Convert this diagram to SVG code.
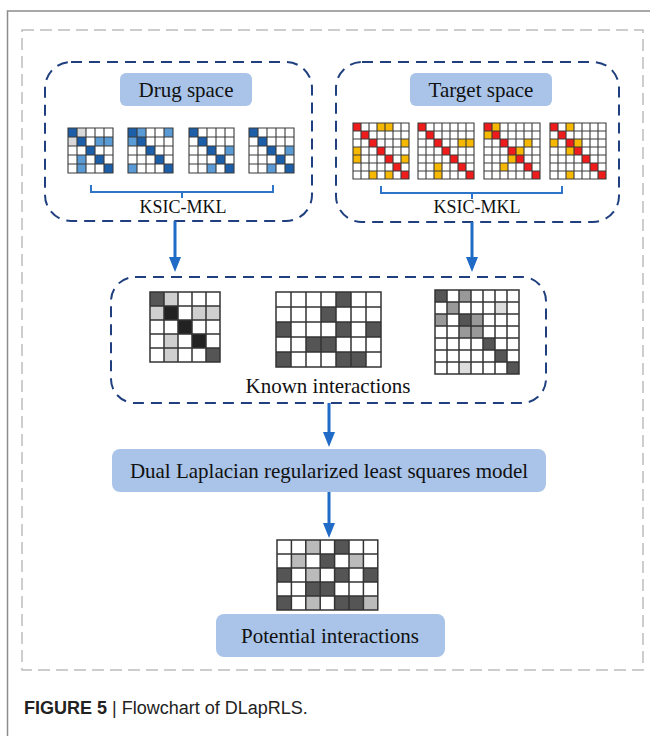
<svg xmlns="http://www.w3.org/2000/svg" xmlns:xlink="http://www.w3.org/1999/xlink" width="650" height="736" viewBox="0 0 650 736">
<style>
.frame{fill:none;stroke:#8c8c8c;stroke-width:1.5}
.outer{fill:none;stroke:#bdbdbd;stroke-width:1.5;stroke-dasharray:12 6}
.grp{fill:none;stroke:#1f3f7f;stroke-width:2;stroke-dasharray:11 7}
.lbl{fill:#a9c4e8}
.t{font-family:"Liberation Serif","Times New Roman",serif;fill:#111;text-anchor:middle}
.cap{font-family:"Liberation Sans",Arial,sans-serif;font-size:18px;fill:#222}
.bg{fill:#fff}
.gs{fill:none;stroke:#3a3a3a;stroke-width:1.1}
.gl{fill:none;stroke:#333;stroke-width:1.5}
.bD{fill:#1c5ea8}.bL{fill:#5b9bd5}.bG{fill:#d9d9d9}
.tR{fill:#ee1c1c}.tY{fill:#f6b800}
.kK{fill:#222}.kM{fill:#555}.kG{fill:#cfcfcf}.kP{fill:#999}.kL{fill:#ddd}.kB{fill:#bbb}
.ar{fill:none;stroke:#1f6bc5;stroke-width:3}
.br{fill:none;stroke:#2e75c9;stroke-width:2}
</style>
<defs>
<marker id="ah" markerUnits="userSpaceOnUse" viewBox="0 0 15 12" markerWidth="15" markerHeight="12" refX="7" refY="6" orient="auto">
<path d="M0,0 L15,6 L0,12 z" fill="#1f6bc5"/>
</marker>
<path id="gD" d="M0,0H45V45H0Z M9,0V45M18,0V45M27,0V45M36,0V45M0,9H45M0,18H45M0,27H45M0,36H45"/>
<path id="gT" d="M0,0H56V56H0Z M8,0V56M16,0V56M24,0V56M32,0V56M40,0V56M48,0V56M0,8H56M0,16H56M0,24H56M0,32H56M0,40H56M0,48H56"/>
<path id="gA" d="M0,0H70V70H0Z M14,0V70M28,0V70M42,0V70M56,0V70M0,14H70M0,28H70M0,42H70M0,56H70"/>
<path id="gB" d="M0,0H105V75H0Z M15,0V75M30,0V75M45,0V75M60,0V75M75,0V75M90,0V75M0,15H105M0,30H105M0,45H105M0,60H105"/>
<path id="gC" d="M0,0H84V84H0Z M12,0V84M24,0V84M36,0V84M48,0V84M60,0V84M72,0V84M0,12H84M0,24H84M0,36H84M0,48H84M0,60H84M0,72H84"/>
<path id="gE" d="M0,0H100.8V70H0Z M14.4,0V70M28.8,0V70M43.2,0V70M57.6,0V70M72,0V70M86.4,0V70M0,14H100.8M0,28H100.8M0,42H100.8M0,56H100.8"/>
<g id="diag7" class="tR">
<rect x="0" y="0" width="8" height="8"/><rect x="8" y="8" width="8" height="8"/><rect x="16" y="16" width="8" height="8"/><rect x="24" y="24" width="8" height="8"/><rect x="32" y="32" width="8" height="8"/><rect x="40" y="40" width="8" height="8"/><rect x="48" y="48" width="8" height="8"/>
</g>
</defs>
<rect width="650" height="736" fill="#fff"/>
<path class="frame" d="M650,11H7.5V736"/>
<rect class="outer" x="22" y="30" width="621" height="640"/>

<g id="drug-space">
<rect class="grp" x="45" y="62" width="267" height="159" rx="26"/>
<rect class="lbl" x="120" y="73" width="132" height="33" rx="6"/>
<text class="t" x="186" y="97" font-size="21">Drug space</text>
<g transform="translate(68,128)">
<rect class="bg" width="45" height="45"/>
<rect class="bD" x="0" y="0" width="9" height="9"/><rect class="bG" x="9" y="0" width="9" height="9"/><rect class="bG" x="0" y="9" width="9" height="9"/><rect class="bD" x="9" y="9" width="9" height="9"/><rect class="bL" x="27" y="9" width="9" height="9"/><rect class="bL" x="36" y="9" width="9" height="9"/><rect class="bD" x="18" y="18" width="9" height="9"/><rect class="bL" x="9" y="27" width="9" height="9"/><rect class="bD" x="27" y="27" width="9" height="9"/><rect class="bL" x="9" y="36" width="9" height="9"/><rect class="bD" x="36" y="36" width="9" height="9"/>
<use xlink:href="#gD" class="gs"/>
</g>
<g transform="translate(128,128)">
<rect class="bg" width="45" height="45"/>
<rect class="bD" x="0" y="0" width="9" height="9"/><rect class="bL" x="9" y="0" width="9" height="9"/><rect class="bL" x="36" y="0" width="9" height="9"/><rect class="bL" x="0" y="9" width="9" height="9"/><rect class="bD" x="9" y="9" width="9" height="9"/><rect class="bD" x="18" y="18" width="9" height="9"/><rect class="bD" x="27" y="27" width="9" height="9"/><rect class="bL" x="0" y="36" width="9" height="9"/><rect class="bD" x="36" y="36" width="9" height="9"/>
<use xlink:href="#gD" class="gs"/>
</g>
<g transform="translate(189,128)">
<rect class="bg" width="45" height="45"/>
<rect class="bD" x="0" y="0" width="9" height="9"/><rect class="bD" x="9" y="9" width="9" height="9"/><rect class="bD" x="18" y="18" width="9" height="9"/><rect class="bL" x="36" y="18" width="9" height="9"/><rect class="bD" x="27" y="27" width="9" height="9"/><rect class="bL" x="18" y="36" width="9" height="9"/><rect class="bD" x="36" y="36" width="9" height="9"/>
<use xlink:href="#gD" class="gs"/>
</g>
<g transform="translate(249,128)">
<rect class="bg" width="45" height="45"/>
<rect class="bD" x="0" y="0" width="9" height="9"/><rect class="bD" x="9" y="9" width="9" height="9"/><rect class="bD" x="18" y="18" width="9" height="9"/><rect class="bL" x="36" y="18" width="9" height="9"/><rect class="bD" x="27" y="27" width="9" height="9"/><rect class="bL" x="18" y="36" width="9" height="9"/><rect class="bD" x="36" y="36" width="9" height="9"/>
<use xlink:href="#gD" class="gs"/>
</g>
<path class="br" d="M91,185V192H273V185M182,192V198"/>
<text class="t" x="183" y="213" font-size="18">KSIC-MKL</text>
</g>

<g id="target-space">
<rect class="grp" x="336" y="62" width="283" height="160" rx="26"/>
<rect class="lbl" x="410" y="73" width="142" height="33" rx="6"/>
<text class="t" x="481" y="97" font-size="21">Target space</text>
<g transform="translate(353,123)">
<rect class="bg" width="56" height="56"/>
<use xlink:href="#diag7"/>
<g class="tY"><rect x="24" y="0" width="8" height="8"/><rect x="32" y="0" width="8" height="8"/><rect x="48" y="16" width="8" height="8"/><rect x="0" y="24" width="8" height="8"/><rect x="0" y="32" width="8" height="8"/><rect x="48" y="32" width="8" height="8"/><rect x="16" y="48" width="8" height="8"/><rect x="32" y="48" width="8" height="8"/></g>
<use xlink:href="#gT" class="gs"/>
</g>
<g transform="translate(418,123)">
<rect class="bg" width="56" height="56"/>
<use xlink:href="#diag7"/>
<g class="tY"><rect x="40" y="16" width="8" height="8"/><rect x="48" y="16" width="8" height="8"/><rect x="16" y="40" width="8" height="8"/><rect x="16" y="48" width="8" height="8"/></g>
<use xlink:href="#gT" class="gs"/>
</g>
<g transform="translate(484,123)">
<rect class="bg" width="56" height="56"/>
<use xlink:href="#diag7"/>
<g class="tY"><rect x="8" y="0" width="8" height="8"/><rect x="0" y="8" width="8" height="8"/><rect x="40" y="16" width="8" height="8"/><rect x="32" y="24" width="8" height="8"/><rect x="24" y="32" width="8" height="8"/><rect x="16" y="40" width="8" height="8"/></g>
<use xlink:href="#gT" class="gs"/>
</g>
<g transform="translate(550,123)">
<rect class="bg" width="56" height="56"/>
<use xlink:href="#diag7"/>
<g class="tY"><rect x="16" y="0" width="8" height="8"/><rect x="0" y="16" width="8" height="8"/><rect x="24" y="16" width="8" height="8"/><rect x="16" y="24" width="8" height="8"/><rect x="16" y="48" width="8" height="8"/></g>
<use xlink:href="#gT" class="gs"/>
</g>
<path class="br" d="M381,186V193H562V186M472,193V199"/>
<text class="t" x="477" y="213" font-size="18">KSIC-MKL</text>
</g>

<g id="known-interactions">
<rect class="grp" x="111" y="277" width="435" height="126" rx="24"/>
<g transform="translate(150,292)">
<rect class="bg" width="70" height="70"/>
<rect class="kM" x="0" y="0" width="14" height="14"/><rect class="kG" x="14" y="0" width="14" height="14"/><rect class="kG" x="0" y="14" width="14" height="14"/><rect class="kK" x="14" y="14" width="14" height="14"/><rect class="kG" x="42" y="14" width="14" height="14"/><rect class="kG" x="56" y="14" width="14" height="14"/><rect class="kK" x="28" y="28" width="14" height="14"/><rect class="kG" x="14" y="42" width="14" height="14"/><rect class="kK" x="42" y="42" width="14" height="14"/><rect class="kG" x="14" y="56" width="14" height="14"/><rect class="kM" x="56" y="56" width="14" height="14"/>
<use xlink:href="#gA" class="gl"/>
</g>
<g transform="translate(276,292)">
<rect class="bg" width="105" height="75"/>
<g class="kM"><rect x="60" y="0" width="15" height="15"/><rect x="45" y="15" width="15" height="15"/><rect x="0" y="30" width="15" height="15"/><rect x="60" y="30" width="15" height="15"/><rect x="90" y="30" width="15" height="15"/><rect x="30" y="45" width="15" height="15"/><rect x="45" y="45" width="15" height="15"/><rect x="0" y="60" width="15" height="15"/><rect x="60" y="60" width="15" height="15"/><rect x="75" y="60" width="15" height="15"/></g>
<use xlink:href="#gB" class="gl"/>
</g>
<g transform="translate(435,290)">
<rect class="bg" width="84" height="84"/>
<rect class="kM" x="0" y="0" width="12" height="12"/><rect class="kP" x="24" y="0" width="12" height="12"/><rect class="kP" x="12" y="12" width="12" height="12"/><rect class="kL" x="60" y="12" width="12" height="12"/><rect class="kP" x="0" y="24" width="12" height="12"/><rect class="kM" x="24" y="24" width="12" height="12"/><rect class="kP" x="36" y="24" width="12" height="12"/><rect class="kP" x="24" y="36" width="12" height="12"/><rect class="kP" x="36" y="36" width="12" height="12"/><rect class="kM" x="48" y="48" width="12" height="12"/><rect class="kM" x="60" y="60" width="12" height="12"/><rect class="kL" x="24" y="72" width="12" height="12"/><rect class="kM" x="72" y="72" width="12" height="12"/>
<use xlink:href="#gC" class="gl"/>
</g>
<text class="t" x="328" y="393" font-size="21">Known interactions</text>
</g>

<g id="dlaprls-model">
<rect class="lbl" x="112" y="449" width="434" height="43" rx="8"/>
<text class="t" x="329" y="478" font-size="21">Dual Laplacian regularized least squares model</text>
</g>

<g id="potential-interactions">
<g transform="translate(277,540)">
<rect class="bg" width="100.8" height="70"/>
<rect class="kB" x="28.8" y="0" width="14.4" height="14"/><rect class="kM" x="57.6" y="0" width="14.4" height="14"/><rect class="kB" x="14.4" y="14" width="14.4" height="14"/><rect class="kM" x="43.2" y="14" width="14.4" height="14"/><rect class="kB" x="72" y="14" width="14.4" height="14"/><rect class="kM" x="0" y="28" width="14.4" height="14"/><rect class="kB" x="28.8" y="28" width="14.4" height="14"/><rect class="kM" x="57.6" y="28" width="14.4" height="14"/><rect class="kM" x="86.4" y="28" width="14.4" height="14"/><rect class="kM" x="28.8" y="42" width="14.4" height="14"/><rect class="kM" x="43.2" y="42" width="14.4" height="14"/><rect class="kM" x="0" y="56" width="14.4" height="14"/><rect class="kB" x="28.8" y="56" width="14.4" height="14"/><rect class="kM" x="57.6" y="56" width="14.4" height="14"/><rect class="kM" x="72" y="56" width="14.4" height="14"/><rect class="kB" x="86.4" y="56" width="14.4" height="14"/>
<use xlink:href="#gE" class="gl"/>
</g>
<rect class="lbl" x="216" y="614" width="229" height="43" rx="8"/>
<text class="t" x="330" y="643" font-size="21">Potential interactions</text>
</g>

<g id="connectors">
<path class="ar" d="M175,221V264" marker-end="url(#ah)"/>
<path class="ar" d="M472,222V264" marker-end="url(#ah)"/>
<path class="ar" d="M329,403V439" marker-end="url(#ah)"/>
<path class="ar" d="M329,492V530" marker-end="url(#ah)"/>
</g>

<text class="cap" x="24" y="714"><tspan font-weight="bold">FIGURE 5 </tspan>| Flowchart of DLapRLS.</text>
</svg>
